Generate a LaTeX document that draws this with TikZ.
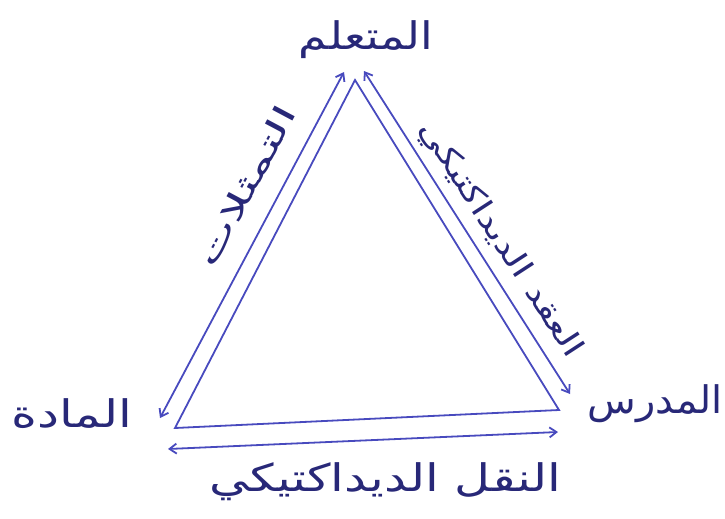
\documentclass[tikz,border=0pt]{standalone}
\usepackage{graphicx}
\usepackage{fontspec}
\newfontfamily\arabicfont[Script=Arabic]{DejaVu Sans}
\TeXXeTstate=1
\usetikzlibrary{arrows.meta}
\definecolor{ink}{RGB}{72,74,190}
\definecolor{darkink}{RGB}{40,40,120}
\tikzset{
  side/.style={draw=ink, line width=1.8pt},
  twoway/.style={draw=ink, line width=1.8pt, {Straight Barb[length=7pt,width=10pt]}-{Straight Barb[length=7pt,width=10pt]}},
  lbl/.style={text=darkink, inner sep=0pt, font=\arabicfont\fontsize{38}{44}\selectfont},
  sidelbl/.style={text=darkink, inner sep=0pt, font=\arabicfont\fontsize{30}{34}\selectfont}
}
\begin{document}
\begin{tikzpicture}[x=1pt,y=-1pt]
\useasboundingbox (0,0) rectangle (725,519);
% inner triangle
\coordinate (A) at (355,80);
\coordinate (B) at (175,428);
\coordinate (C) at (559,410);
\draw[side] (A) -- (B) -- (C) -- cycle;
% outer two-way arrows
\coordinate (L1) at (344,72);
\coordinate (L2) at (160,418);
\coordinate (R1) at (364,71);
\coordinate (R2) at (570,394);
\coordinate (D1) at (168,449);
\coordinate (D2) at (558,432);
\draw[twoway] (L1) -- (L2);
\draw[twoway] (R1) -- (R2);
\draw[twoway] (D1) -- (D2);
% corner labels
\node[lbl] (learner) at (366,40) {\scalebox{1.2}[1]{\beginR المتعلم\endR}};
\node[lbl] (matter) at (72,414) {\scalebox{1.3}[1]{\beginR المادة\endR}};
\node[lbl] (teacher) at (655,404) {\scalebox{1.05}[1]{\beginR المدرس\endR}};
% side labels
\node[sidelbl, rotate=62] (repr) at (246,186) {\scalebox{1.8}[1]{\beginR التمثلات\endR}};
\node[sidelbl, rotate=-57] (contract) at (500,240) {\scalebox{1.3}[1]{\beginR العقد الديداكتيكي\endR}};
\node[lbl] (transp) at (385,482) {\scalebox{1.3}[1]{\beginR النقل الديداكتيكي\endR}};
\end{tikzpicture}
\end{document}
